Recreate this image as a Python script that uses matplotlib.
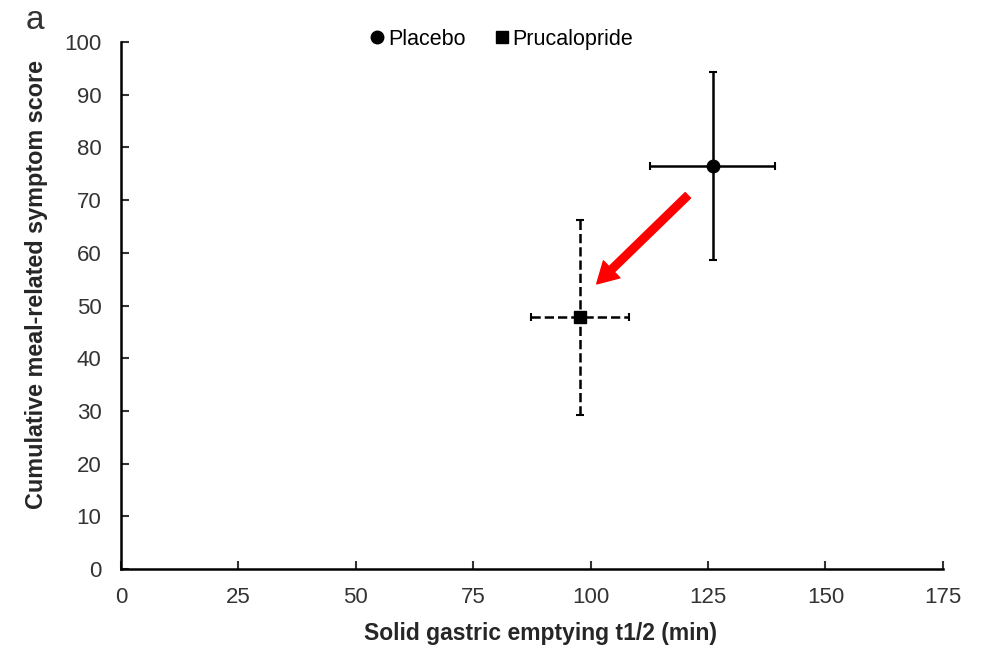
import matplotlib
matplotlib.use("Agg")
import matplotlib.pyplot as plt
from matplotlib.lines import Line2D

plt.rcParams['font.family'] = ['Liberation Sans', 'DejaVu Sans']

groups = ['Placebo', 'Prucalopride']
t_half = [126.0, 97.7]          # solid gastric emptying t1/2 (min)
t_half_err = [13.3, 10.5]
score = [76.5, 47.8]            # cumulative meal-related symptom score
score_err = [17.9, 18.5]
markers = ['o', 's']
styles = ['-', '--']

fig = plt.figure(figsize=(9.95, 6.5), dpi=100)
ax = fig.add_axes([0.1216, 0.1246, 0.826, 0.8108])

handles = []
for i, g in enumerate(groups):
    eb = ax.errorbar(t_half[i], score[i], xerr=t_half_err[i], yerr=score_err[i],
                     fmt=markers[i], color='black', ms=9, elinewidth=1.8,
                     capsize=3, capthick=1.5, zorder=3)
    for lc in eb[2]:
        lc.set_linestyle(styles[i])
    handles.append(Line2D([], [], marker=markers[i], color='black', ls='none', ms=9))

# red arrow pointing from placebo to prucalopride
ax.annotate('', xy=(101.3, 54.1), xytext=(120.7, 70.9),
            arrowprops=dict(width=5.5, headwidth=17, headlength=15,
                            color='#ff0000', shrink=0))

ax.set_xlim(0, 175)
ax.set_ylim(0, 100)
ax.set_xticks(range(0, 176, 25))
ax.set_yticks(range(0, 101, 10))
ax.tick_params(direction='in', length=6, width=1.5, labelsize=16, colors='#333333',
               labelcolor='#333333')
ax.tick_params(axis='y', pad=14)
ax.tick_params(axis='x', pad=13)
for s in ['top', 'right']:
    ax.spines[s].set_visible(False)
for s in ['left', 'bottom']:
    ax.spines[s].set_linewidth(1.8)

ax.set_xlabel('Solid gastric emptying t1/2 (min)', fontsize=16.5, fontweight='bold',
              color='#262626', va='center')
ax.set_ylabel('Cumulative meal-related symptom score', fontsize=16.8, fontweight='bold',
              color='#262626', va='center')
ax.xaxis.set_label_coords(0.511, -0.123)
ax.yaxis.set_label_coords(-0.103, 0.539)

ax.legend(handles, groups, loc='center', bbox_to_anchor=(0.461, 1.005), ncol=2,
          frameon=False, fontsize=15.5, handletextpad=0.0, columnspacing=1.2,
          handlelength=1.0)

fig.text(0.026, 0.955, 'a', fontsize=24, color='#333333')

fig.savefig('out.png', dpi=100)
